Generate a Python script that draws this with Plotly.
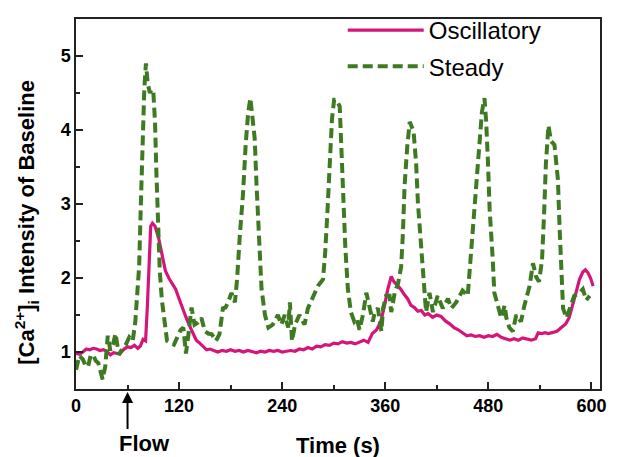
import plotly.graph_objects as go

# ---- data ----
osc_t = [0, 4, 8, 12, 16, 20, 24, 28, 32, 36, 40, 44, 48, 52, 56, 60, 64, 68, 72, 75,
         78, 81, 83, 85, 87, 89, 92, 96, 100, 104, 108, 112, 116, 120, 124, 128, 132,
         136, 140, 144, 148, 152, 156, 160, 165, 170, 175, 180, 185, 190, 195, 200,
         205, 210, 215, 220, 225, 230, 235, 240, 245, 250, 255, 260, 265, 270, 275,
         280, 285, 290, 295, 300, 305, 310, 315, 320, 325, 330, 335, 340, 345, 350,
         355, 359, 363, 367, 370, 374, 378, 382, 386, 390, 394, 398, 402, 406, 410,
         415, 420, 425, 430, 435, 440, 445, 450, 455, 460, 465, 470, 475, 480, 485,
         490, 495, 500, 505, 510, 515, 520, 525, 530, 535, 538, 542, 546, 550, 555,
         560, 565, 570, 574, 578, 582, 586, 590, 593, 596, 599, 602]
osc_v = [0.98, 0.97, 1.00, 1.04, 1.03, 1.05, 1.04, 1.02, 1.03, 1.01, 0.96, 0.99, 0.98,
         0.99, 1.04, 1.07, 1.06, 1.09, 1.05, 1.08, 1.17, 1.15, 1.60, 2.30, 2.70, 2.74,
         2.70, 2.55, 2.30, 2.10, 2.00, 1.92, 1.85, 1.72, 1.58, 1.47, 1.36, 1.25, 1.16,
         1.12, 1.08, 1.03, 1.04, 1.02, 1.00, 1.02, 1.01, 1.03, 1.01, 1.02, 1.00, 1.02,
         1.01, 0.99, 1.01, 1.00, 1.02, 1.01, 1.02, 1.00, 1.01, 1.02, 1.01, 1.04, 1.03,
         1.06, 1.04, 1.08, 1.07, 1.10, 1.09, 1.12, 1.11, 1.14, 1.12, 1.13, 1.11, 1.14,
         1.16, 1.13, 1.25, 1.30, 1.42, 1.62, 1.85, 2.02, 1.95, 1.90, 1.85, 1.78, 1.72,
         1.63, 1.60, 1.55, 1.56, 1.50, 1.52, 1.47, 1.50, 1.48, 1.42, 1.38, 1.33, 1.30,
         1.26, 1.22, 1.23, 1.21, 1.22, 1.20, 1.22, 1.21, 1.24, 1.20, 1.18, 1.16, 1.18,
         1.16, 1.19, 1.17, 1.16, 1.18, 1.26, 1.25, 1.26, 1.25, 1.26, 1.28, 1.33, 1.38,
         1.46, 1.62, 1.80, 1.98, 2.08, 2.11, 2.07, 2.00, 1.89]

st_t = [0, 4, 8, 11, 14, 17, 20, 23, 26, 29, 31, 34, 37, 40, 43, 46, 50, 54, 58, 62,
        66, 69, 71, 73.5, 75.5, 77.5, 79.5, 81.4, 83.5, 86, 88, 90, 92, 93.5, 95, 97.5,
        100, 103, 106, 110, 114, 118, 122, 125, 128, 130.5, 134.5, 138, 142, 146, 150,
        154, 158, 163, 167, 171, 174, 177, 181, 185, 187.5, 190.5, 194.5, 197.5, 200.5,
        203, 205.5, 208, 210, 212.5, 216, 220, 224, 229, 235, 239, 243, 247, 249,
        251.5, 255, 260, 266, 270, 276, 281.5, 287.5, 290, 292.5, 295, 298, 300.5, 303,
        307, 309, 311, 313.5, 316.5, 320, 324, 327, 330, 334, 338, 342, 345.5, 348,
        351.5, 355.5, 357.5, 361, 365, 367, 371, 375, 378.5, 380.5, 382.5, 385.5, 388.5,
        393, 396, 398, 402, 404.5, 407.5, 411.5, 415.5, 421, 427, 433, 437, 442.5, 450,
        456, 458, 462, 466, 469.8, 472.5, 475.5, 477.5, 479.5, 481.5, 485, 487, 491,
        495, 499, 501, 504.5, 508.5, 512.5, 518, 522, 528, 532, 535.5, 539, 542.5, 545,
        547, 550, 553, 557, 561, 563, 565, 567, 571, 576, 580, 586, 590, 594, 598]
st_v = [0.76, 0.95, 0.90, 0.82, 0.80, 0.95, 0.96, 0.88, 0.85, 0.72, 0.63, 0.80, 1.22,
        1.02, 1.10, 1.25, 0.96, 1.05, 1.10, 1.20, 1.15, 1.40, 1.70, 2.16, 3.00, 3.90,
        4.55, 4.90, 4.63, 4.50, 4.55, 4.52, 4.10, 3.46, 2.80, 2.10, 1.70, 1.40, 1.15,
        1.12, 1.10, 1.20, 1.30, 1.33, 0.98, 1.20, 1.60, 1.37, 1.40, 1.46, 1.28, 1.25,
        1.24, 1.15, 1.24, 1.59, 1.60, 1.67, 1.80, 1.67, 1.98, 2.54, 3.15, 3.80, 4.24,
        4.43, 4.15, 3.89, 3.30, 2.65, 1.85, 1.50, 1.33, 1.37, 1.50, 1.37, 1.50, 1.33,
        1.67, 1.15, 1.37, 1.50, 1.37, 1.59, 1.76, 1.89, 1.98, 2.33, 2.85, 3.50, 4.15,
        4.41, 4.41, 4.32, 3.72, 3.07, 2.42, 1.85, 1.54, 1.41, 1.45, 1.30, 1.50, 1.80,
        1.59, 1.41, 1.55, 1.59, 1.28, 1.59, 1.76, 1.76, 1.54, 1.80, 1.93, 2.15, 2.59,
        3.24, 3.76, 4.11, 3.98, 3.54, 3.02, 2.37, 1.85, 1.54, 1.80, 1.54, 1.76, 1.59,
        1.72, 1.59, 1.67, 1.83, 1.76, 2.07, 2.72, 3.24, 3.80, 4.24, 4.43, 4.11, 3.59,
        2.93, 2.28, 1.80, 1.63, 1.46, 1.63, 1.46, 1.33, 1.28, 1.50, 1.41, 1.63, 1.89,
        2.20, 2.02, 1.95, 2.24, 2.89, 3.54, 4.06, 3.85, 3.80, 3.33, 2.67, 2.02, 1.59,
        1.46, 1.63, 1.76, 1.80, 1.85, 1.70, 1.76]

x_ticks = [0, 120, 240, 360, 480, 600]
y_ticks = [1, 2, 3, 4, 5]
flow_time = 60

MAGENTA = "#D4157A"
GREEN = "#3D7A22"
FONT = "Liberation Sans, Arial, sans-serif"

fig = go.Figure()
fig.add_trace(go.Scatter(x=osc_t, y=osc_v, mode="lines", name="Oscillatory",
                         legendgroup="a",
                         line=dict(color=MAGENTA, width=3.2)))
fig.add_trace(go.Scatter(x=st_t, y=st_v, mode="lines", name="Steady",
                         legendgroup="b",
                         line=dict(color=GREEN, width=4, dash="10px,5px")))

axis_common = dict(
    showgrid=False, zeroline=False, showline=True, linecolor="#222222",
    linewidth=1.5, mirror=True, ticks="inside", ticklen=7, tickwidth=1.5,
    tickcolor="#222222",
    tickfont=dict(family=FONT, size=18, color="black", weight="bold"),
)

fig.update_xaxes(range=[0, 610], tickvals=x_ticks,
                 ticktext=[str(v) for v in x_ticks],
                 minor=dict(ticks="inside", ticklen=4, tickwidth=1.5,
                            tickcolor="#222222", dtick=60, tick0=0),
                 **axis_common)
fig.update_yaxes(range=[0.5, 5.5], tickvals=y_ticks,
                 ticktext=[str(v) for v in y_ticks],
                 minor=dict(ticks="inside", ticklen=4, tickwidth=1.5,
                            tickcolor="#222222", dtick=0.5, tick0=0.5),
                 **axis_common)

title_font = dict(family=FONT, size=22, color="black")

fig.add_annotation(text="<b>Time (s)</b>", xref="paper", yref="paper",
                   x=0.5, y=-0.152, showarrow=False, font=title_font,
                   xanchor="center", yanchor="middle")
fig.add_annotation(text="<b>[Ca<sup>2+</sup>]<sub>i</sub> Intensity of Baseline</b>",
                   xref="paper", yref="paper", x=-0.095, y=0.45, textangle=-90,
                   showarrow=False, font=title_font,
                   xanchor="center", yanchor="middle")
# Flow arrow
fig.add_annotation(text=" ", x=flow_time, xref="x", y=-0.008, yref="paper",
                   showarrow=True, arrowhead=2, arrowsize=1.1, arrowwidth=2,
                   arrowcolor="black", ax=0, ay=40, font=dict(size=2))
fig.add_annotation(text="<b>Flow</b>", xref="paper", yref="paper",
                   x=(144 - 76) / 524, y=-0.148, showarrow=False, font=title_font,
                   xanchor="center", yanchor="middle")

fig.update_layout(
    width=609, height=449,
    margin=dict(l=68, r=17, t=0, b=68),
    paper_bgcolor="white", plot_bgcolor="white",
    showlegend=True,
    legend=dict(x=0.509, y=1.03, xanchor="left", yanchor="top",
                bgcolor="rgba(0,0,0,0)", borderwidth=0, itemwidth=76,
                tracegroupgap=2,
                font=dict(family=FONT, size=24, color="black")),
)

fig.write_html("out.html")
